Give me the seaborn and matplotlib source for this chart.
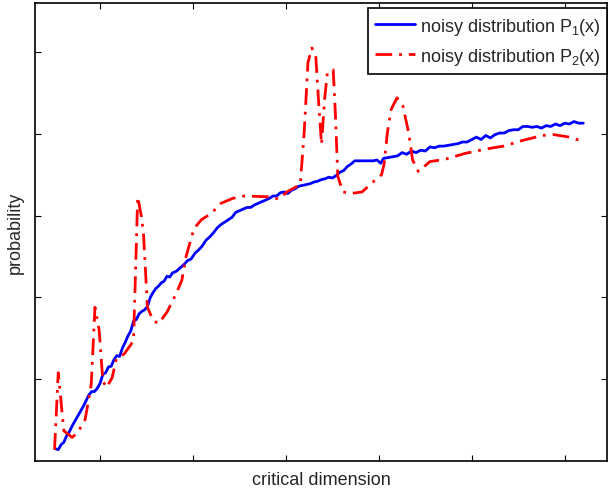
import matplotlib
matplotlib.use("Agg")
import matplotlib.pyplot as plt
import numpy as np
import pandas as pd
import seaborn as sns

# noisy distribution P1 (blue, solid)
p1_x = [0.52, 0.55, 0.58, 0.61, 0.64, 0.67, 0.70, 0.73, 0.76, 0.79, 0.82, 0.85, 0.88, 0.91, 0.94,
        0.97, 1.00, 1.03, 1.06, 1.09, 1.12, 1.15, 1.18, 1.21, 1.24, 1.27, 1.30, 1.33, 1.36, 1.39,
        1.42, 1.45, 1.48, 1.51, 1.54, 1.57, 1.60, 1.63, 1.66, 1.69, 1.72, 1.75, 1.78, 1.82, 1.86,
        1.90, 1.94, 1.98, 2.02, 2.06, 2.10, 2.14, 2.18, 2.22, 2.26, 2.30, 2.34, 2.38, 2.42, 2.46,
        2.50, 2.54, 2.58, 2.62, 2.66, 2.70, 2.74, 2.78, 2.82, 2.86, 2.90, 2.94, 2.98, 3.02, 3.06,
        3.10, 3.14, 3.18, 3.22, 3.26, 3.30, 3.34, 3.38, 3.42, 3.46, 3.50, 3.54, 3.58, 3.62, 3.66,
        3.70, 3.74, 3.78, 3.82, 3.86, 3.90, 3.94, 3.98, 4.02, 4.05, 4.10, 4.15, 4.20, 4.25, 4.30,
        4.35, 4.40, 4.45, 4.50, 4.55, 4.60, 4.65, 4.70, 4.75, 4.80, 4.85, 4.90, 4.95, 5.00, 5.05,
        5.10, 5.15, 5.20, 5.25, 5.30, 5.35, 5.40, 5.45, 5.50, 5.55, 5.60, 5.65, 5.70, 5.75, 5.80,
        5.85, 5.90, 5.95, 6.00, 6.05, 6.10, 6.15, 6.20]
p1_y = [0.15, 0.14, 0.20, 0.23, 0.31, 0.36, 0.43, 0.49, 0.55, 0.61, 0.67, 0.74, 0.81, 0.85, 0.85,
        0.89, 0.95, 1.06, 1.08, 1.15, 1.16, 1.24, 1.29, 1.28, 1.38, 1.45, 1.53, 1.59, 1.71, 1.73,
        1.80, 1.83, 1.85, 1.89, 2.00, 2.06, 2.11, 2.14, 2.18, 2.20, 2.26, 2.25, 2.30, 2.32, 2.36,
        2.40, 2.45, 2.47, 2.54, 2.58, 2.63, 2.70, 2.74, 2.79, 2.85, 2.89, 2.92, 2.95, 2.98, 3.04,
        3.06, 3.08, 3.10, 3.10, 3.13, 3.15, 3.17, 3.19, 3.21, 3.24, 3.24, 3.28, 3.29, 3.27, 3.31,
        3.33, 3.36, 3.37, 3.38, 3.39, 3.41, 3.42, 3.44, 3.45, 3.47, 3.46, 3.49, 3.53, 3.55, 3.60,
        3.63, 3.67, 3.67, 3.67, 3.67, 3.67, 3.67, 3.68, 3.64, 3.70, 3.71, 3.72, 3.73, 3.77, 3.75,
        3.79, 3.77, 3.80, 3.79, 3.84, 3.83, 3.85, 3.85, 3.86, 3.87, 3.88, 3.90, 3.90, 3.93, 3.96,
        3.93, 3.98, 3.95, 3.99, 4.01, 4.01, 4.04, 4.05, 4.05, 4.09, 4.09, 4.08, 4.09, 4.07, 4.10,
        4.09, 4.12, 4.10, 4.13, 4.12, 4.15, 4.13, 4.13]

# noisy distribution P2 (red, dash-dot)
p2_x = [0.51, 0.55, 0.61, 0.70, 0.76, 0.84, 0.905, 0.945, 0.99, 1.03, 1.07, 1.13, 1.175, 1.26,
        1.36, 1.405, 1.445, 1.467, 1.51, 1.57, 1.63, 1.72, 1.82, 1.88, 1.925, 2.01, 2.09, 2.20,
        2.30, 2.425, 2.55, 2.84, 2.925, 3.01, 3.154, 3.196, 3.237, 3.279, 3.321, 3.35, 3.383,
        3.416, 3.446, 3.509, 3.533, 3.558, 3.613, 3.696, 3.82, 3.925, 4.029, 4.058, 4.091, 4.133,
        4.195, 4.259, 4.321, 4.363, 4.425, 4.487, 4.549, 4.717, 4.925, 5.133, 5.342, 5.55, 5.759,
        5.884, 6.05, 6.133, 6.196]
p2_y = [0.14, 1.08, 0.37, 0.29, 0.35, 0.51, 0.94, 1.88, 1.60, 0.98, 0.90, 1.02, 1.25, 1.31,
        1.47, 3.23, 2.99, 2.78, 1.88, 1.72, 1.68, 1.82, 2.05, 2.21, 2.50, 2.84, 2.95, 3.03,
        3.15, 3.21, 3.24, 3.23, 3.20, 3.29, 3.38, 4.01, 4.87, 5.05, 4.95, 4.42, 3.87,
        4.42, 4.75, 4.78, 4.22, 3.48, 3.29, 3.27, 3.29, 3.40, 3.50, 3.64, 4.01, 4.30,
        4.44, 4.34, 4.01, 3.68, 3.54, 3.60, 3.66, 3.69, 3.76, 3.81, 3.85, 3.92, 3.98,
        3.99, 3.96, 3.93, 3.93]

sns.set_style("ticks")
plt.rcParams['font.family'] = ['Liberation Sans', 'DejaVu Sans']
plt.rcParams['mathtext.default'] = 'regular'
plt.rcParams['xtick.direction'] = 'in'
plt.rcParams['ytick.direction'] = 'in'

fig = plt.figure(figsize=(6.09, 4.89), dpi=100)
ax = fig.add_axes([0.0575, 0.055, 0.94, 0.937])

sns.lineplot(x=p1_x, y=p1_y, ax=ax, color='#0000ff', linewidth=2, estimator=None, sort=False,
             label='noisy distribution P$_1$(x)')
sns.lineplot(x=p2_x, y=p2_y, ax=ax, color='#ff0000', linewidth=2, estimator=None, sort=False,
             label='noisy distribution P$_2$(x)')
ax.lines[1].set_linestyle((0, (6, 2.5, 1, 2.5)))

ax.set_xlim(0.3, 6.46)
ax.set_ylim(0, 5.6)
ax.set_xticks([1, 2, 3, 4, 5, 6])
ax.set_yticks([1, 2, 3, 4, 5])
ax.tick_params(which='both', top=True, right=True, labelbottom=False, labelleft=False,
               length=4, width=0.8, color='black')
for s in ax.spines.values():
    s.set_visible(True)
    s.set_color('black')
    s.set_linewidth(1.2)

ax.set_xlabel('critical dimension', fontsize=13, labelpad=7)
ax.set_ylabel('probability', fontsize=13, labelpad=8)

leg = ax.legend(loc='upper right', bbox_to_anchor=(1.0, 0.988), fontsize=13, frameon=True,
                fancybox=False, framealpha=1, edgecolor='black', borderaxespad=0,
                handlelength=2.2, handletextpad=0.25, labelspacing=0.5, borderpad=0.4)
leg.get_frame().set_linewidth(1.2)

fig.savefig('out.png', dpi=100)
